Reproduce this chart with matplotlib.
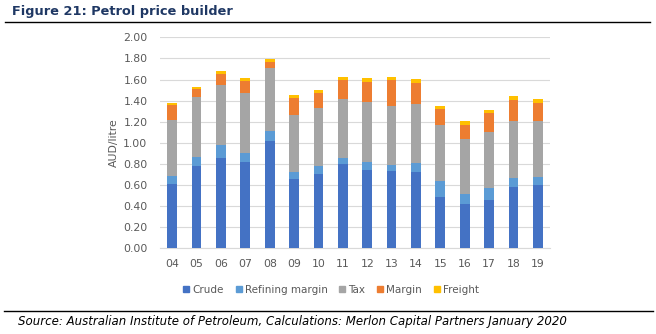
import matplotlib
matplotlib.use("Agg")
import matplotlib.pyplot as plt
import numpy as np
from matplotlib.lines import Line2D

years = ["04", "05", "06", "07", "08", "09", "10", "11", "12", "13", "14", "15", "16", "17", "18", "19"]

# Cumulative stack tops (AUD/litre) for each component
crude_top    = [0.61, 0.78, 0.86, 0.82, 1.02, 0.66, 0.70, 0.80, 0.74, 0.73, 0.72, 0.49, 0.42, 0.46, 0.585, 0.60]
refining_top = [0.69, 0.865, 0.975, 0.90, 1.11, 0.72, 0.78, 0.86, 0.82, 0.79, 0.81, 0.64, 0.51, 0.57, 0.67, 0.68]
tax_top      = [1.22, 1.43, 1.55, 1.47, 1.71, 1.26, 1.33, 1.415, 1.39, 1.35, 1.37, 1.17, 1.035, 1.105, 1.21, 1.21]
margin_top   = [1.36, 1.51, 1.655, 1.585, 1.77, 1.42, 1.475, 1.595, 1.58, 1.60, 1.57, 1.32, 1.17, 1.285, 1.405, 1.38]
freight_top  = [1.38, 1.53, 1.68, 1.61, 1.79, 1.45, 1.50, 1.625, 1.61, 1.625, 1.60, 1.35, 1.21, 1.31, 1.44, 1.415]

series_names = ["Crude", "Refining margin", "Tax", "Margin", "Freight"]
colors = ["#4472C4", "#5B9BD5", "#A5A5A5", "#ED7D31", "#FFC000"]

tops = np.array([crude_top, refining_top, tax_top, margin_top, freight_top])
bottoms = np.vstack([np.zeros(len(years)), tops[:-1]])
heights = tops - bottoms

fig = plt.figure(figsize=(6.56, 3.34), dpi=100)
W, H = 656, 334

ax = fig.add_axes([160 / W, 1 - 248.3 / H, 390 / W, 211 / H])
x = np.arange(len(years))
for i, name in enumerate(series_names):
    ax.bar(x, heights[i], bottom=bottoms[i], width=0.4, color=colors[i],
           label=name, zorder=3)

ax.set_xlim(-0.5, len(years) - 0.5)
ax.set_ylim(0, 2.0)
ax.set_yticks(np.arange(0, 2.01, 0.2))
ax.set_yticklabels([f"{v:.2f}" for v in np.arange(0, 2.01, 0.2)])
ax.set_xticks(x)
ax.set_xticklabels(years)
ax.grid(axis="y", color="#D9D9D9", linewidth=0.8, zorder=0)
for s in ["top", "right", "left"]:
    ax.spines[s].set_visible(False)
ax.spines["bottom"].set_color("#D9D9D9")
ax.tick_params(axis="both", length=0, labelsize=7.8, labelcolor="#595959")
ax.tick_params(axis="y", pad=9)
ax.tick_params(axis="x", pad=8)
ax.set_ylabel("AUD/litre", fontsize=7.8, color="#595959", labelpad=3)

handles = [Line2D([], [], marker="s", linestyle="", markersize=5,
                  markerfacecolor=c, markeredgecolor=c) for c in colors]
fig.legend(handles, series_names, loc="center", bbox_to_anchor=(330 / W, 1 - 290 / H),
           ncol=5, frameon=False, fontsize=7.5, labelcolor="#595959",
           handletextpad=0.1, columnspacing=0.9, handlelength=1.0)

fig.text(12 / W, 1 - 12 / H, "Figure 21: Petrol price builder", fontsize=9.3,
         fontweight="bold", color="#1F3864", va="center", ha="left")
fig.add_artist(Line2D([5 / W, 650 / W], [1 - 22 / H, 1 - 22 / H], color="black", linewidth=1.0))
fig.add_artist(Line2D([4 / W, 653 / W], [1 - 311 / H, 1 - 311 / H], color="black", linewidth=1.0))
fig.text(18 / W, 1 - 322 / H,
         "Source: Australian Institute of Petroleum, Calculations: Merlon Capital Partners January 2020",
         fontsize=8.5, style="italic", color="black", va="center", ha="left")

fig.savefig("out.png", dpi=100)
